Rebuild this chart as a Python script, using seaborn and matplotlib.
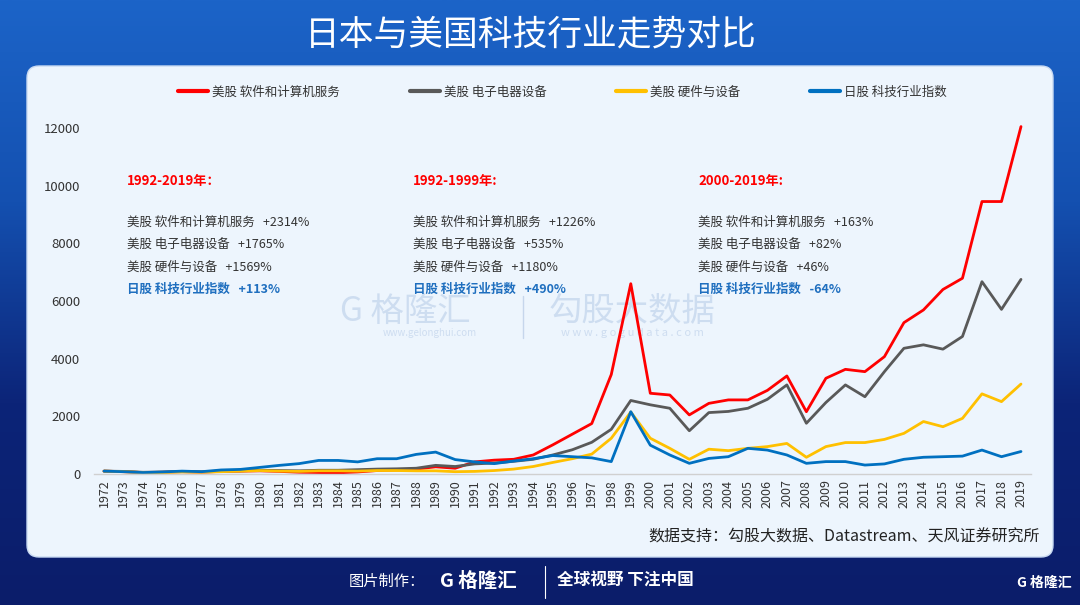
import numpy as np
import pandas as pd
import matplotlib
matplotlib.use('Agg')
import matplotlib.pyplot as plt
from matplotlib.patches import FancyBboxPatch
from matplotlib.lines import Line2D
from matplotlib.colors import LinearSegmentedColormap
import seaborn as sns

# ==================================================
# data (index)
years = list(range(1972, 2020))
series_names = ['美股 软件和计算机服务', '美股 电子电器设备', '美股 硬件与设备', '日股 科技行业指数']
series_colors = ['#ff0000', '#595959', '#ffc000', '#0070c0']

us_software = [100, 80, 50, 60, 80, 60, 90, 100, 110, 90, 60, 50, 40, 70, 120, 140,
               170, 250, 200, 420, 480, 510, 660, 1010, 1380, 1750, 3450, 6600, 2800, 2740,
               2050, 2450, 2570, 2570, 2900, 3400, 2160, 3320, 3630, 3550, 4070, 5250, 5690,
               6400, 6790, 9450, 9450, 12050]
us_electronic = [100, 90, 60, 70, 90, 80, 100, 110, 130, 120, 110, 130, 130, 150, 170, 180,
                 200, 300, 260, 350, 380, 440, 510, 660, 840, 1100, 1550, 2550, 2400, 2280,
                 1500, 2130, 2170, 2280, 2590, 3090, 1760, 2480, 3090, 2680, 3550, 4360, 4480,
                 4330, 4770, 6670, 5710, 6750]
us_hardware = [100, 80, 50, 50, 70, 60, 80, 100, 120, 100, 90, 110, 110, 100, 120, 120,
               110, 110, 80, 90, 120, 170, 260, 400, 530, 690, 1240, 2150, 1240, 890,
               510, 860, 810, 890, 950, 1060, 580, 950, 1090, 1090, 1200, 1410, 1820,
               1640, 1930, 2780, 2510, 3120]
jp_tech = [100, 80, 50, 70, 100, 80, 140, 160, 230, 300, 360, 470, 470, 420, 530, 530,
           680, 760, 500, 420, 360, 450, 530, 640, 600, 560, 430, 2160, 1000, 660,
           370, 540, 600, 890, 830, 660, 370, 430, 430, 310, 350, 510, 580,
           600, 620, 830, 600, 780]

periods = ['1992-2019年：', '1992-1999年:', '2000-2019年:']
changes = [['+2314%', '+1765%', '+1569%', '+113%'],
           ['+1226%', '+535%', '+1180%', '+490%'],
           ['+163%', '+82%', '+46%', '-64%']]

df = pd.DataFrame({'year': years * 4,
                   'value': us_software + us_electronic + us_hardware + jp_tech,
                   'series': sum([[n] * len(years) for n in series_names], [])})

# ==================================================
sns.set_style('white')
plt.rcParams['font.family'] = ['Noto Sans CJK SC', 'DejaVu Sans']

fig = plt.figure(figsize=(10.8, 6.05), dpi=100)

# background: blue gradient + light panel, pixel coordinates
bg = fig.add_axes([0, 0, 1, 1])
bg.set_xlim(0, 1080)
bg.set_ylim(605, 0)
bg.axis('off')
cmap = LinearSegmentedColormap.from_list('bg', ['#1c64c8', '#1450b0', '#0c2478', '#0b1d6a'])
grad = np.linspace(0, 1, 256).reshape(-1, 1)
bg.imshow(grad, cmap=cmap, extent=(0, 1080, 605, 0), aspect='auto', zorder=0)
bg.add_patch(FancyBboxPatch((27, 66), 1026, 491, boxstyle='round,pad=0,rounding_size=12',
                            facecolor='#edf5fd', edgecolor='#c9daf2', linewidth=1, zorder=1))

bg.text(531, 35, '日本与美国科技行业走势对比', color='white', fontsize=25, fontweight='medium',
        ha='center', va='center', zorder=2)

# watermark
bg.text(405, 311, 'G 格隆汇', color='#b9cde8', fontsize=24, ha='center', va='center', alpha=0.6, zorder=2)
bg.text(430, 333, 'www.gelonghui.com', color='#b9cde8', fontsize=7, ha='center', va='center', alpha=0.6, zorder=2)
bg.plot([523, 523], [296, 338], color='#c6d6ec', lw=1, zorder=2)
bg.text(632, 311, '勾股大数据', color='#b9cde8', fontsize=24, ha='center', va='center', alpha=0.6, zorder=2)
bg.text(632, 333, 'w w w . g o g u d a t a . c o m', color='#b9cde8', fontsize=8, ha='center',
        va='center', alpha=0.6, zorder=2)

# footer
bg.text(1040, 537, '数据支持：勾股大数据、Datastream、天风证券研究所', color='#222222', fontsize=11.5,
        fontweight='medium', ha='right', va='center', zorder=2)
bg.text(425, 581, '图片制作：', color='white', fontsize=11, ha='right', va='center', zorder=2)
bg.text(440, 581, 'G 格隆汇', color='white', fontsize=14, fontweight='bold', ha='left', va='center', zorder=2)
bg.plot([545, 545], [566, 598], color='white', lw=0.8, zorder=2)
bg.text(557, 581, '全球视野 下注中国', color='white', fontsize=12, fontweight='bold', ha='left',
        va='center', zorder=2)
bg.text(1072, 583, 'G 格隆汇', color='white', fontsize=10, fontweight='bold', ha='right', va='center', zorder=2)

# ==================================================
# main chart
ax = fig.add_axes([94.25 / 1080, 131 / 605, 936.5 / 1080, 360.4 / 605])
ax.set_facecolor('none')
sns.lineplot(data=df, x='year', y='value', hue='series', hue_order=series_names,
             palette=series_colors, linewidth=2.0, legend=False, ax=ax)
ax.set_xlim(1971.5, 2019.5)
ax.set_ylim(0, 12500)
ax.set_yticks(range(0, 12001, 2000))
ax.set_xticks(years)
ax.set_xticklabels([str(y) for y in years], rotation=90)
ax.tick_params(axis='x', labelsize=9, colors='#333333', length=0, pad=4)
ax.tick_params(axis='y', labelsize=9.5, colors='#333333', length=0, pad=10)
ax.set_xlabel('')
ax.set_ylabel('')
for side in ['top', 'right', 'left']:
    ax.spines[side].set_visible(False)
ax.spines['bottom'].set_color('#d0d0d0')
ax.spines['bottom'].set_linewidth(1)

handles = [Line2D([0], [0], color=c, lw=3) for c in series_colors]
leg = ax.legend(handles, series_names, ncol=4, loc='center', bbox_to_anchor=(0.5, 1.06),
                frameon=False, fontsize=9, handlelength=2.4, handletextpad=0.3, columnspacing=5.6)
for t in leg.get_texts():
    t.set_color('#333333')

# annotations
col_x = [127, 413, 698]
for i in range(3):
    bg.text(col_x[i], 181, periods[i], color='#ff0000', fontsize=9.5, fontweight='bold',
            ha='left', va='center', zorder=3)
    for j in range(4):
        is_jp = j == 3
        bg.text(col_x[i], 222 + j * 22.5, series_names[j] + '   ' + changes[i][j],
                color='#1f6fbf' if is_jp else '#333333', fontsize=9,
                fontweight='bold' if is_jp else 'normal', ha='left', va='center', zorder=3)

plt.savefig('out.png', dpi=100)
